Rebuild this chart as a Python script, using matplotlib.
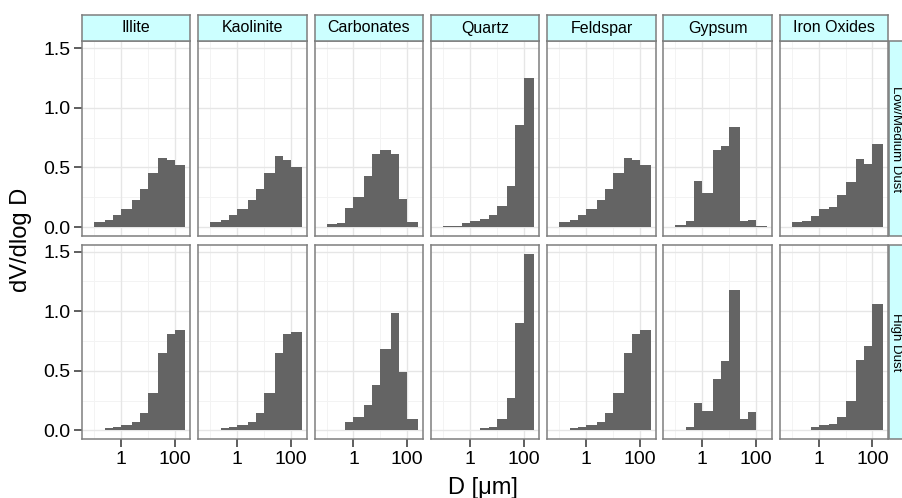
import matplotlib
matplotlib.use("Agg")
import matplotlib.pyplot as plt
from matplotlib.patches import Rectangle
import numpy as np

plt.rcParams['font.family'] = ['Liberation Sans', 'DejaVu Sans']

# ---------------- data ----------------
minerals = ["Illite", "Kaolinite", "Carbonates", "Quartz", "Feldspar", "Gypsum", "Iron Oxides"]
row_labels = ["Low/Medium Dust", "High Dust"]
bin_edges = [0.1, 0.25, 0.5, 1, 2.5, 5, 10, 25, 50, 100, 250]

low_illite     = [0.039, 0.059, 0.098, 0.148, 0.223, 0.315, 0.452, 0.583, 0.558, 0.519]
low_kaolinite  = [0.039, 0.059, 0.098, 0.148, 0.223, 0.315, 0.452, 0.594, 0.560, 0.507]
low_carbonates = [0.022, 0.031, 0.156, 0.248, 0.432, 0.611, 0.650, 0.616, 0.231, 0.039]
low_quartz     = [0.006, 0.008, 0.031, 0.047, 0.064, 0.098, 0.173, 0.340, 0.859, 1.252]
low_feldspar   = [0.039, 0.059, 0.098, 0.148, 0.223, 0.315, 0.452, 0.583, 0.558, 0.519]
low_gypsum     = [0.014, 0.050, 0.382, 0.284, 0.650, 0.677, 0.836, 0.050, 0.059, 0.006]
low_ironox     = [0.039, 0.050, 0.089, 0.148, 0.164, 0.265, 0.376, 0.574, 0.527, 0.700]

high_illite     = [0.008, 0.017, 0.028, 0.042, 0.075, 0.145, 0.318, 0.652, 0.811, 0.839]
high_kaolinite  = [0.008, 0.017, 0.028, 0.042, 0.075, 0.145, 0.318, 0.652, 0.811, 0.828]
high_carbonates = [0.008, 0.003, 0.070, 0.109, 0.212, 0.385, 0.680, 0.981, 0.488, 0.100]
high_quartz     = [0.003, 0.003, 0.006, 0.008, 0.017, 0.028, 0.095, 0.270, 0.903, 1.483]
high_feldspar   = [0.008, 0.017, 0.028, 0.042, 0.075, 0.145, 0.318, 0.652, 0.811, 0.839]
high_gypsum     = [0.008, 0.025, 0.234, 0.167, 0.435, 0.585, 1.179, 0.092, 0.151, 0.003]
high_ironox     = [0.008, 0.008, 0.025, 0.042, 0.053, 0.109, 0.251, 0.594, 0.711, 1.062]

x_ticks = [1, 100]
x_tick_labels = ["1", "100"]
y_ticks = [0.0, 0.5, 1.0, 1.5]
y_tick_labels = ["0.0", "0.5", "1.0", "1.5"]

rows = [
    [low_illite, low_kaolinite, low_carbonates, low_quartz, low_feldspar, low_gypsum, low_ironox],
    [high_illite, high_kaolinite, high_carbonates, high_quartz, high_feldspar, high_gypsum, high_ironox],
]

# ---------------- layout ----------------
W, H = 903, 498
fig = plt.figure(figsize=(W / 100, H / 100), dpi=100)

left0, pitch_x, pw = 82.0, 116.3, 108.4
top0, pitch_y, ph = 41.3, 203.4, 194.6
strip_h = 26.6

bar_color = "#646464"
border_color = "#7f7f7f"
strip_fill = "#ccffff"

edges = np.array(bin_edges)
lefts = edges[:-1]
widths = np.diff(edges)
ymax_data = max(max(v) for r in rows for v in r)
ylim = (-0.05 * ymax_data, 1.05 * ymax_data)
xlim = (10 ** -1.444, 10 ** 2.586)


def fx(px):
    return px / W


def fy(py):
    return 1 - py / H


for r, series_row in enumerate(rows):
    for c, vals in enumerate(series_row):
        x0 = left0 + c * pitch_x
        y0 = top0 + r * pitch_y
        ax = fig.add_axes([fx(x0), fy(y0 + ph), pw / W, ph / H])
        ax.set_xscale("log")
        ax.set_xlim(*xlim)
        ax.set_ylim(*ylim)
        # grid
        for mx in [0.1, 10, 1000]:
            ax.axvline(mx, color="#f3f3f3", lw=0.7, zorder=0)
        for my in [0.25, 0.75, 1.25]:
            ax.axhline(my, color="#f3f3f3", lw=0.7, zorder=0)
        for mx in x_ticks:
            ax.axvline(mx, color="#e6e6e6", lw=1.0, zorder=0)
        for my in y_ticks:
            ax.axhline(my, color="#e6e6e6", lw=1.0, zorder=0)
        ax.bar(lefts, vals, width=widths, align="edge", color=bar_color,
               linewidth=0, zorder=2)
        ax.minorticks_off()
        ax.set_xticks(x_ticks)
        ax.set_yticks(y_ticks)
        ax.tick_params(axis="both", which="both", length=5.5, width=1.1,
                       color="#333333", labelsize=14, pad=3)
        if r == 1:
            ax.set_xticklabels(x_tick_labels)
        else:
            ax.tick_params(axis="x", bottom=False, labelbottom=False)
        if c == 0:
            ax.set_yticklabels(y_tick_labels)
        else:
            ax.tick_params(axis="y", left=False, labelleft=False)
        for s in ax.spines.values():
            s.set_color(border_color)
            s.set_linewidth(1.1)
            s.set_zorder(5)

        # top strip
        if r == 0:
            sax = fig.add_axes([fx(x0), fy(y0), pw / W, strip_h / H])
            sax.set_facecolor(strip_fill)
            sax.set_xticks([])
            sax.set_yticks([])
            for s in sax.spines.values():
                s.set_color(border_color)
                s.set_linewidth(1.1)
            sax.text(0.5, 0.5, minerals[c], ha="center", va="center",
                     fontsize=11.5, transform=sax.transAxes)

    # right strip
    xs = left0 + 6 * pitch_x + pw + 0.5
    y0 = top0 + r * pitch_y
    rect = Rectangle((fx(xs), fy(y0 + ph)), strip_h / W, ph / H,
                     transform=fig.transFigure, facecolor=strip_fill,
                     edgecolor=border_color, linewidth=1.1)
    fig.patches.append(rect)
    fig.text(fx(896.2), fy(y0 + ph / 2), row_labels[r],
             rotation=-90, ha="center", va="center", fontsize=9.5)

fig.text(fx(483), fy(488), "D [\u03bcm]", ha="center", va="center", fontsize=17)
fig.text(fx(21), fy(240), "dV/dlog D", ha="center", va="center",
         rotation=90, fontsize=17)

fig.savefig("out.png", dpi=100)
